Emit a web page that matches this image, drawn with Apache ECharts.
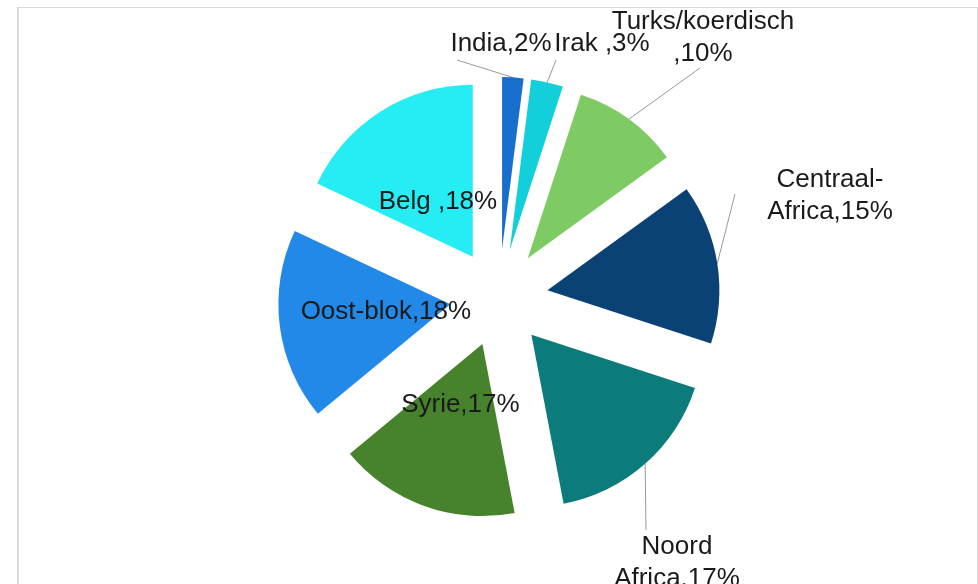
<!DOCTYPE html>
<html>
<head>
<meta charset="utf-8">
<script src="https://cdn.jsdelivr.net/npm/echarts@6/dist/echarts.min.js"></script>
<style>
  html, body { margin: 0; padding: 0; background: #fff; }
  #chart { width: 978px; height: 584px; }
  .frame {
    position: absolute; left: 17px; top: 7px; width: 958px; height: 576px;
    border: 1px solid #d9d9d9; border-left-width: 2px; pointer-events: none;
  }
</style>
</head>
<body>
<div id="chart"></div>
<div class="frame"></div>
<script>
// categories, clockwise from 12 o'clock
const categories = ['India', 'Irak ', 'Turks/koerdisch', 'Centraal-Africa', 'Noord Africa', 'Syrie', 'Oost-blok', 'Belg ']
// text as it is wrapped in the labels
const labelNames = ['India', 'Irak ', 'Turks/koerdisch\n', 'Centraal-\nAfrica', 'Noord\nAfrica', 'Syrie', 'Oost-blok', 'Belg ']
// percentages
const values = [2, 3, 10, 15, 17, 17, 18, 18]
const colors = ['#1a6ecb', '#12cfd9', '#7fcb63', '#0a4275', '#0b7b7c', '#47822d', '#2289e8', '#26ecf3']
// which labels sit inside the slice
const insideLabel = [false, false, false, false, false, true, true, true]

// outside labels: centre of the text block, and where its leader line leaves the label
const labelSpots = {
  0: { at: [501, 44], from: [457, 60] },
  1: { at: [602, 44], from: [556, 60] },
  2: { at: [703, 38], from: [700, 68] },
  3: { at: [830, 196], from: [735, 194] },
  4: { at: [677, 563], from: [646, 530] }
}

const center = [499, 298]
const R = 172
const explode = 49

const chart = echarts.init(document.getElementById('chart'))

const font = {
  fontFamily: '"Liberation Sans", Arial, sans-serif',
  fontSize: 26,
  lineHeight: 32,
  color: '#1a1a1a'
}

const fmt = (p) => labelNames[p.dataIndex] + ',' + values[p.dataIndex] + '%'

const base = {
  type: 'pie',
  center: center,
  startAngle: 90,
  clockwise: true,
  avoidLabelOverlap: false,
  emphasis: { disabled: true }
}

chart.setOption({
  animation: false,
  series: [
    {
      // the exploded slices
      ...base,
      radius: R,
      selectedMode: 'multiple',
      selectedOffset: explode,
      itemStyle: { borderWidth: 0 },
      select: { itemStyle: { borderWidth: 0 } },
      label: { show: false },
      labelLine: { show: false },
      data: values.map((v, i) => ({
        name: categories[i],
        value: v,
        selected: true,
        itemStyle: { color: colors[i] }
      }))
    },
    {
      // transparent copy, holds the inside labels
      ...base,
      radius: 124,
      silent: true,
      selectedMode: 'multiple',
      selectedOffset: explode,
      itemStyle: { color: 'rgba(0,0,0,0)', borderWidth: 0 },
      select: { itemStyle: { color: 'rgba(0,0,0,0)', borderWidth: 0 } },
      label: { show: true, position: 'inside', formatter: fmt, offset: [0, 4], ...font },
      labelLine: { show: false },
      data: values.map((v, i) => ({
        name: categories[i],
        value: v,
        selected: true,
        label: { show: insideLabel[i] }
      }))
    },
    {
      // transparent copy reaching the exploded rim, holds the outside labels
      ...base,
      radius: R + explode,
      silent: true,
      itemStyle: { color: 'rgba(0,0,0,0)', borderWidth: 0 },
      label: { show: true, position: 'outside', formatter: fmt, align: 'center', ...font },
      labelLine: {
        show: true,
        length: 0,
        length2: 0,
        lineStyle: { color: '#999', width: 1 }
      },
      labelLayout: (p) => {
        const spot = labelSpots[p.dataIndex]
        if (!spot) return {}
        const out = { x: spot.at[0], y: spot.at[1], align: 'center', verticalAlign: 'middle' }
        // first point of the default line is on the rim, at the slice's mid angle
        if (p.labelLinePoints) {
          const rim = p.labelLinePoints[0]
          out.labelLinePoints = [rim, spot.from, spot.from]
        }
        return out
      },
      data: values.map((v, i) => ({
        name: categories[i],
        value: v,
        label: { show: !insideLabel[i] },
        labelLine: { show: !insideLabel[i] }
      }))
    }
  ]
})
</script>
</body>
</html>
